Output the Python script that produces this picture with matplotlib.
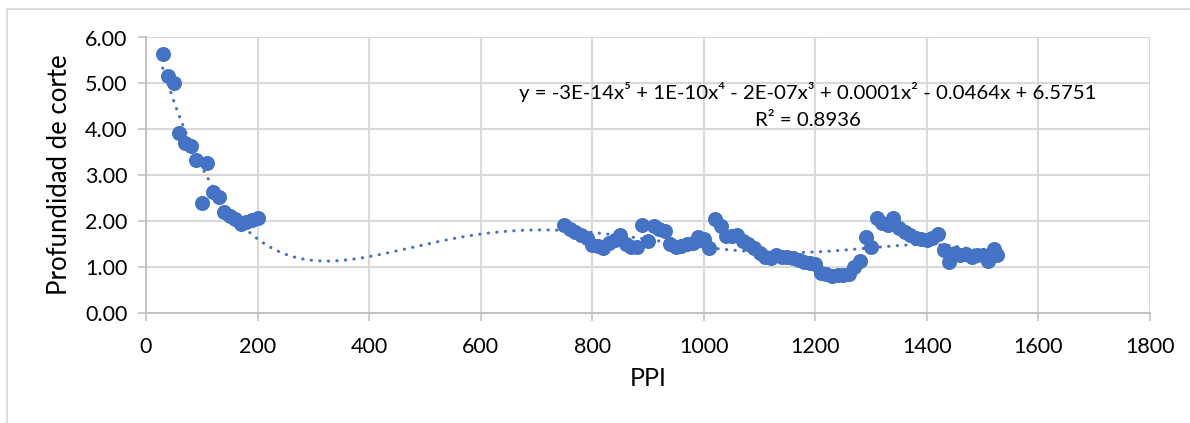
import numpy as np
import matplotlib.pyplot as plt
from matplotlib.patches import Rectangle

# Datos: PPI vs profundidad de corte
ppi_bajo = [30, 40, 50, 60, 70, 80, 90, 100, 110, 120, 130, 140, 150, 160, 170, 180, 190, 200]
prof_bajo = [5.63, 5.15, 5.00, 3.92, 3.70, 3.63, 3.33, 2.40, 3.27, 2.62, 2.53, 2.20, 2.10, 2.03,
             1.93, 1.98, 2.02, 2.06]

ppi_alto = [750, 760, 770, 780, 790, 800, 810, 820, 830, 840, 850, 860, 870, 880, 890, 900,
            910, 920, 930, 940, 950, 960, 970, 980, 990, 1000, 1010, 1020, 1030, 1040, 1050,
            1060, 1070, 1080, 1090, 1100, 1110, 1120, 1130, 1140, 1150, 1160, 1170, 1180, 1190,
            1200, 1210, 1220, 1230, 1240, 1250, 1260, 1270, 1280, 1290, 1300, 1310, 1320, 1330,
            1340, 1350, 1360, 1370, 1380, 1390, 1400, 1410, 1420, 1430, 1440, 1450, 1460, 1470,
            1480, 1490, 1500, 1510, 1520, 1525]
prof_alto = [1.92, 1.82, 1.75, 1.69, 1.62, 1.48, 1.45, 1.40, 1.52, 1.58, 1.70, 1.50, 1.42, 1.42,
             1.90, 1.55, 1.88, 1.82, 1.78, 1.50, 1.42, 1.45, 1.50, 1.52, 1.65, 1.60, 1.40, 2.03,
             1.88, 1.68, 1.68, 1.70, 1.55, 1.50, 1.40, 1.30, 1.22, 1.20, 1.26, 1.22, 1.22, 1.18,
             1.15, 1.10, 1.08, 1.06, 0.86, 0.85, 0.80, 0.82, 0.82, 0.85, 1.00, 1.12, 1.65, 1.42,
             2.06, 1.95, 1.92, 2.06, 1.85, 1.75, 1.70, 1.62, 1.60, 1.58, 1.62, 1.72, 1.36, 1.10,
             1.30, 1.25, 1.27, 1.22, 1.26, 1.25, 1.12, 1.38, 1.25]

x_ticks = [0, 200, 400, 600, 800, 1000, 1200, 1400, 1600, 1800]
y_ticks = [0, 1, 2, 3, 4, 5, 6]
ecuacion = "y = -3E-14x\u2075 + 1E-10x\u2074 - 2E-07x\u00b3 + 0.0001x\u00b2 - 0.0464x + 6.5751"
r2_texto = "R\u00b2 = 0.8936"

azul = "#4472C4"
gris = "#d9d9d9"
fuente = ["Lato", "DejaVu Sans"]
plt.rcParams["font.family"] = fuente

x = np.array(ppi_bajo + ppi_alto, dtype=float)
y = np.array(prof_bajo + prof_alto, dtype=float)

fig = plt.figure(figsize=(11.9, 4.23), dpi=100)
ax = fig.add_axes([146 / 1190, 110.5 / 423, (1150 - 146) / 1190, (312.5 - 37.5) / 423])

# borde del area del grafico
fig.patches.append(Rectangle((7 / 1190, -0.2), 1.2, 1.2 - 9 / 423, transform=fig.transFigure,
                             fill=False, edgecolor=gris, linewidth=1.3))

ax.scatter(x, y, s=117, color=azul, zorder=3, linewidths=0)

# linea de tendencia polinomica de grado 5
pol = np.polynomial.Polynomial.fit(x, y, 5)
xs = np.linspace(x.min(), x.max(), 400)
ax.plot(xs, pol(xs), color=azul, linewidth=2.2, linestyle=(0, (0.1, 2.7)),
        dash_capstyle="round", zorder=4)

ax.set_xlim(0, 1800)
ax.set_ylim(0, 6)
ax.set_xticks(x_ticks)
ax.set_yticks(y_ticks)
ax.set_yticklabels([f"{v:.2f}" for v in y_ticks])
ax.grid(True, color=gris, linewidth=1.5)
ax.set_axisbelow(True)
for lado in ["top", "right"]:
    ax.spines[lado].set_visible(False)
for lado in ["left", "bottom"]:
    ax.spines[lado].set_color("#bfbfbf")
    ax.spines[lado].set_linewidth(1.3)
ax.tick_params(axis="both", length=5.5, width=1.1, color="#bfbfbf", labelsize=15.5,
               labelcolor="black")
ax.tick_params(axis="y", pad=8)
ax.tick_params(axis="x", pad=12)

ax.set_xlabel("PPI", fontsize=18, labelpad=7)
ax.set_ylabel("Profundidad de corte", fontsize=18.5, labelpad=9)

fig.text(808 / 1190, 1 - 91.7 / 423, ecuacion, fontsize=14.7, ha="center", va="center",
         family=fuente)
fig.text(808 / 1190, 1 - 120 / 423, r2_texto, fontsize=14.7, ha="center", va="center",
         family=fuente)

fig.savefig("out.png", dpi=100)
